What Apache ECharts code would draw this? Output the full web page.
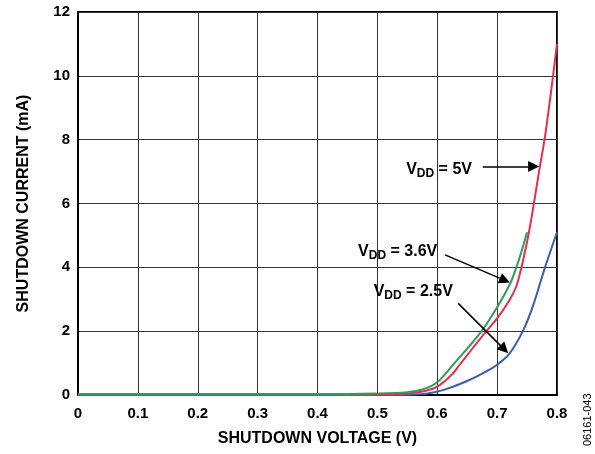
<!DOCTYPE html>
<html>
<head>
<meta charset="utf-8">
<script src="https://cdn.jsdelivr.net/npm/echarts@6/dist/echarts.min.js"></script>
<style>html,body{margin:0;padding:0;background:#fff}#c{width:595px;height:454px}</style>
</head>
<body>
<div id="c"></div>
<script>
// Data
const xTicks = [0, 0.1, 0.2, 0.3, 0.4, 0.5, 0.6, 0.7, 0.8];
const yTicks = [0, 2, 4, 6, 8, 10, 12];

const vdd5V_x = [0, 0.1, 0.2, 0.3, 0.4, 0.45, 0.5, 0.55, 0.578, 0.6, 0.625, 0.637, 0.65, 0.682, 0.7, 0.72, 0.732, 0.74, 0.75, 0.757, 0.77, 0.78, 0.79, 0.8];
const vdd5V_y = [0.01, 0.01, 0.01, 0.01, 0.01, 0.0, 0.02, 0.05, 0.12, 0.26, 0.65, 0.94, 1.25, 2.0, 2.4, 2.95, 3.4, 3.95, 4.8, 5.5, 7.0, 8.1, 9.5, 11.0];

const vdd36V_x = [0, 0.1, 0.2, 0.3, 0.4, 0.5, 0.55, 0.575, 0.6, 0.627, 0.65, 0.674, 0.7, 0.722, 0.732, 0.74, 0.75];
const vdd36V_y = [0.03, 0.03, 0.03, 0.03, 0.03, 0.05, 0.09, 0.17, 0.4, 0.96, 1.45, 2.0, 2.75, 3.5, 4.0, 4.45, 5.1];

const vdd25V_x = [0, 0.1, 0.2, 0.3, 0.4, 0.5, 0.55, 0.584, 0.611, 0.649, 0.682, 0.7, 0.72, 0.743, 0.76, 0.78, 0.8];
const vdd25V_y = [0.0, 0.0, 0.0, 0.0, 0.0, 0.0, 0.01, 0.05, 0.16, 0.43, 0.74, 0.95, 1.28, 2.0, 2.8, 4.0, 5.1];

const labelTexts = ['5V', '3.6V', '2.5V'];
const labelCoords = [[0.658, 7.05], [0.600, 4.49], [0.626, 3.24]];
const arrowStarts = [[0.676, 7.16], [0.613, 4.39], [0.635, 2.87]];
const arrowEnds = [[0.761, 7.16], [0.713, 3.59], [0.712, 1.43]];

const zip = (xs, ys) => xs.map((x, i) => [x, ys[i]]);
const FONT = 'Liberation Sans';

const chart = echarts.init(document.getElementById('c'));
chart.setOption({
  animation: false,
  grid: { left: 78, right: 38, top: 12, bottom: 59, show: true, borderColor: '#000', borderWidth: 2, containLabel: false },
  xAxis: {
    type: 'value', min: 0, max: 0.8, interval: 0.1,
    name: 'SHUTDOWN VOLTAGE (V)', nameLocation: 'middle', nameGap: 36,
    nameTextStyle: { fontFamily: FONT, fontWeight: 'bold', fontSize: 16, color: '#000' },
    axisLine: { show: true, lineStyle: { color: '#000', width: 2 } },
    axisTick: { show: false },
    axisLabel: { fontFamily: FONT, fontWeight: 'bold', fontSize: 15, color: '#000', margin: 11,
      formatter: v => { const t = xTicks.find(k => Math.abs(k - v) < 1e-6); return t === undefined ? '' : String(t); } },
    splitLine: { show: true, lineStyle: { color: '#333', width: 1 } }
  },
  yAxis: {
    type: 'value', min: 0, max: 12, interval: 2,
    name: 'SHUTDOWN CURRENT (mA)', nameLocation: 'middle', nameGap: 46, nameRotate: 90,
    nameTextStyle: { fontFamily: FONT, fontWeight: 'bold', fontSize: 16, color: '#000' },
    axisLine: { show: true, lineStyle: { color: '#000', width: 2 } },
    axisTick: { show: false },
    axisLabel: { fontFamily: FONT, fontWeight: 'bold', fontSize: 15, color: '#000', margin: 8,
      formatter: v => { const t = yTicks.find(k => Math.abs(k - v) < 1e-6); return t === undefined ? '' : String(t); } },
    splitLine: { show: true, lineStyle: { color: '#333', width: 1 } }
  },
  series: [
    { name: 'VDD = 2.5V', type: 'line', data: zip(vdd25V_x, vdd25V_y), smooth: 0.3, symbol: 'none',
      lineStyle: { color: '#3A5DA8', width: 2 } },
    { name: 'VDD = 5V', type: 'line', data: zip(vdd5V_x, vdd5V_y), smooth: 0.3, symbol: 'none',
      lineStyle: { color: '#E62E4D', width: 2 } },
    { name: 'VDD = 3.6V', type: 'line', data: zip(vdd36V_x, vdd36V_y), smooth: 0.3, symbol: 'none',
      lineStyle: { color: '#2E9D5A', width: 2 } },
    { name: 'annotations', type: 'line', data: [], z: 5,
      markLine: {
        silent: true, symbol: ['none', 'triangle'], symbolSize: 11,
        lineStyle: { color: '#000', width: 1.5, type: 'solid' },
        itemStyle: { color: '#000' },
        label: { show: false },
        data: arrowStarts.map((s, i) => [{ coord: s }, { coord: arrowEnds[i] }])
      },
      markPoint: {
        silent: true, symbol: 'circle', symbolSize: 0,
        itemStyle: { color: 'transparent' },
        data: labelCoords.map((c, i) => ({
          coord: c,
          label: {
            show: true, position: [0, 0], align: 'right', verticalAlign: 'middle',
            formatter: '{v|V}{s|DD}{v| = ' + labelTexts[i] + '}',
            rich: {
              v: { fontFamily: FONT, fontWeight: 'bold', fontSize: 16, color: '#000' },
              s: { fontFamily: FONT, fontWeight: 'bold', fontSize: 12, color: '#000', padding: [8, 0, 0, 0] }
            }
          }
        }))
      }
    }
  ],
  graphic: [
    { type: 'text', x: 588, y: 446, rotation: Math.PI / 2,
      style: { text: '06161-043', fontFamily: FONT, fontSize: 11, fill: '#000', align: 'left', verticalAlign: 'middle' } }
  ]
});
</script>
</body>
</html>
